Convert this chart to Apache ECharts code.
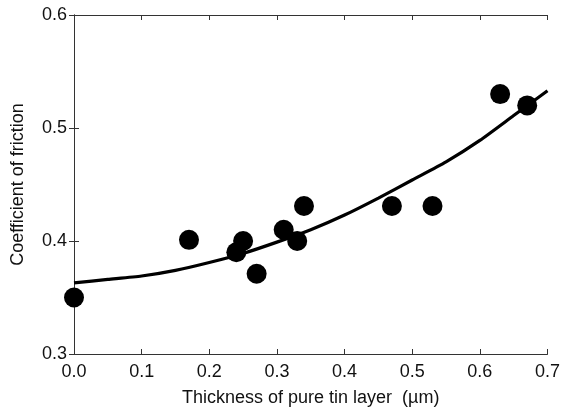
<!DOCTYPE html>
<html><head><meta charset="utf-8">
<script src="https://cdn.jsdelivr.net/npm/echarts@6/dist/echarts.min.js"></script>
<style>html,body{margin:0;padding:0;background:#fff}#c{width:563px;height:414px}</style>
</head><body><div id="c"></div>
<script>
const pointX = [0.00, 0.17, 0.24, 0.25, 0.27, 0.31, 0.33, 0.34, 0.47, 0.53, 0.63, 0.67];
const pointY = [0.350, 0.401, 0.390, 0.400, 0.371, 0.410, 0.400, 0.431, 0.431, 0.431, 0.530, 0.520];
const curveX = [0.00, 0.05, 0.10, 0.15, 0.20, 0.25, 0.30, 0.35, 0.40, 0.45, 0.50, 0.55, 0.60, 0.65, 0.70];
const curveY = [0.363, 0.366, 0.369, 0.374, 0.381, 0.389, 0.399, 0.410, 0.423, 0.438, 0.454, 0.470, 0.489, 0.511, 0.533];
const xTicks = ['0.0','0.1','0.2','0.3','0.4','0.5','0.6','0.7'];
const yTicks = ['0.3','0.4','0.5','0.6'];
const xName = 'Thickness of pure tin layer  (µm)';
const yName = 'Coefficient of friction';

const font = 'Liberation Sans, Arial, sans-serif';
const axisLine = {show: true, lineStyle: {color: '#333', width: 1}};
const tick = {show: true, inside: true, length: 5, lineStyle: {color: '#333'}};
const chart = echarts.init(document.getElementById('c'), null, {renderer: 'canvas'});
chart.setOption({
  animation: false,
  grid: {left: 74, right: 14, top: 15, bottom: 60},
  xAxis: [{
    type: 'value', min: 0, max: 0.7, interval: 0.1, position: 'bottom',
    name: xName, nameLocation: 'middle', nameGap: 35,
    nameTextStyle: {fontFamily: font, fontSize: 18, color: '#111'},
    axisLine: axisLine, axisTick: tick, splitLine: {show: false},
    axisLabel: {fontFamily: font, fontSize: 18, color: '#111', margin: 9,
      formatter: v => xTicks[Math.round(v * 10)]}
  }, {
    type: 'value', min: 0, max: 0.7, interval: 0.1, position: 'top',
    axisLine: axisLine, axisTick: tick, axisLabel: {show: false}, splitLine: {show: false}
  }],
  yAxis: [{
    type: 'value', min: 0.3, max: 0.6, interval: 0.1, position: 'left',
    name: yName, nameLocation: 'middle', nameGap: 47,
    nameTextStyle: {fontFamily: font, fontSize: 18, color: '#111'},
    axisLine: axisLine, axisTick: tick, splitLine: {show: false},
    axisLabel: {fontFamily: font, fontSize: 18, color: '#111', margin: 7,
      formatter: v => yTicks[Math.round(v * 10) - 3]}
  }, {
    type: 'value', min: 0.3, max: 0.6, interval: 0.1, position: 'right',
    axisLine: axisLine, axisTick: tick, axisLabel: {show: false}, splitLine: {show: false}
  }],
  series: [{
    type: 'line', data: curveX.map((x, i) => [x, curveY[i]]),
    showSymbol: false, smooth: 0.2, lineStyle: {color: '#000', width: 3.2}, z: 2
  }, {
    type: 'scatter', data: pointX.map((x, i) => [x, pointY[i]]),
    symbol: 'circle', symbolSize: 20, itemStyle: {color: '#000', opacity: 1}, z: 3
  }]
});
</script>
</body></html>
